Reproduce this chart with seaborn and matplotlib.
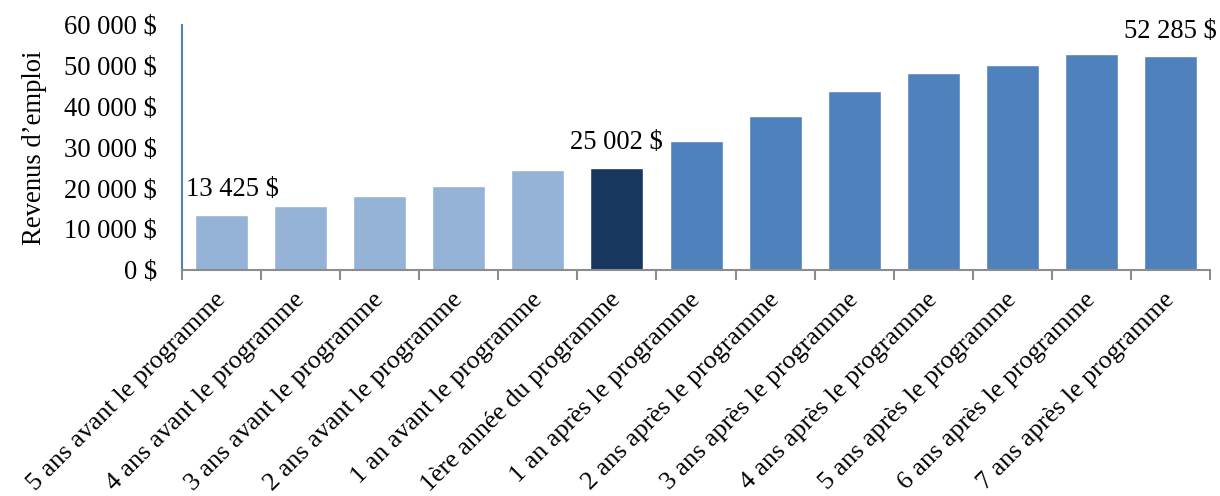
import matplotlib
matplotlib.use("Agg")
import matplotlib.pyplot as plt
import matplotlib.transforms as mtransforms
import seaborn as sns
import pandas as pd
import numpy as np
from matplotlib.ticker import FuncFormatter, FixedLocator

categories = [
    "5 ans avant le programme",
    "4 ans avant le programme",
    "3 ans avant le programme",
    "2 ans avant le programme",
    "1 an avant le programme",
    "1ère année du programme",
    "1 an après le programme",
    "2 ans après le programme",
    "3 ans après le programme",
    "4 ans après le programme",
    "5 ans après le programme",
    "6 ans après le programme",
    "7 ans après le programme",
]
revenus = [13425, 15600, 18100, 20500, 24500, 25002, 31600, 37700, 43900, 48300, 50200, 52900, 52285]
bar_colors = ["#95B3D7"] * 5 + ["#17375E"] + ["#4F81BD"] * 7
labelled = {0: "13 425 $", 5: "25 002 $", 12: "52 285 $"}

sns.set_theme(style="white")
plt.rcParams["font.family"] = ["Liberation Serif", "DejaVu Serif"]
plt.rcParams["text.color"] = "black"
plt.rcParams["xtick.color"] = "black"
plt.rcParams["ytick.color"] = "black"
plt.rcParams["axes.labelcolor"] = "black"

FS = 19.2
FSX = 18.8

df = pd.DataFrame({"cat": categories, "val": revenus})

fig = plt.figure(figsize=(12.2, 4.96), dpi=100)
ax = fig.add_axes([0.149, 0.456, 0.843, 0.494])

sns.barplot(data=df, x="cat", y="val", hue="cat", palette=bar_colors,
            width=0.67, legend=False, ax=ax, saturation=1)

ax.set_ylim(0, 60000)
ax.set_xlim(-0.5, len(categories) - 0.5)
ax.set_yticks(np.arange(0, 60001, 10000))
ax.yaxis.set_major_formatter(FuncFormatter(lambda v, p: f"{int(v):,}".replace(",", " ") + " $"))
ax.tick_params(axis="y", length=0, labelsize=FS, pad=18)

ax.set_xticks(range(len(categories)))
ax.set_xticklabels(categories, rotation=45, ha="right", rotation_mode="anchor", fontsize=FSX)
ax.tick_params(axis="x", which="major", length=0, pad=12)
shift = mtransforms.ScaledTranslation(-7 / 100, -2 / 100, fig.dpi_scale_trans)
for lbl in ax.get_xticklabels():
    lbl.set_transform(lbl.get_transform() + shift)
ax.xaxis.set_minor_locator(FixedLocator(np.arange(-0.5, len(categories), 1.0)))
ax.tick_params(axis="x", which="minor", length=7, width=1.5, color="#8C8C8C", direction="out", bottom=True)

ax.set_xlabel("")
ax.set_ylabel("Revenus d’emploi", fontsize=FS, labelpad=12)

for s in ["top", "right"]:
    ax.spines[s].set_visible(False)
ax.spines["left"].set_color("#4F81BD")
ax.spines["left"].set_linewidth(1.5)
ax.spines["bottom"].set_color("#8C8C8C")
ax.spines["bottom"].set_linewidth(1.5)

offsets = {0: 0.14, 5: 0.0, 12: 0.0}
for i, txt in labelled.items():
    ax.annotate(txt, (i + offsets[i], revenus[i]), xytext=(0, 9), textcoords="offset points",
                ha="center", va="bottom", fontsize=FS)

fig.savefig("out.png", dpi=100)
